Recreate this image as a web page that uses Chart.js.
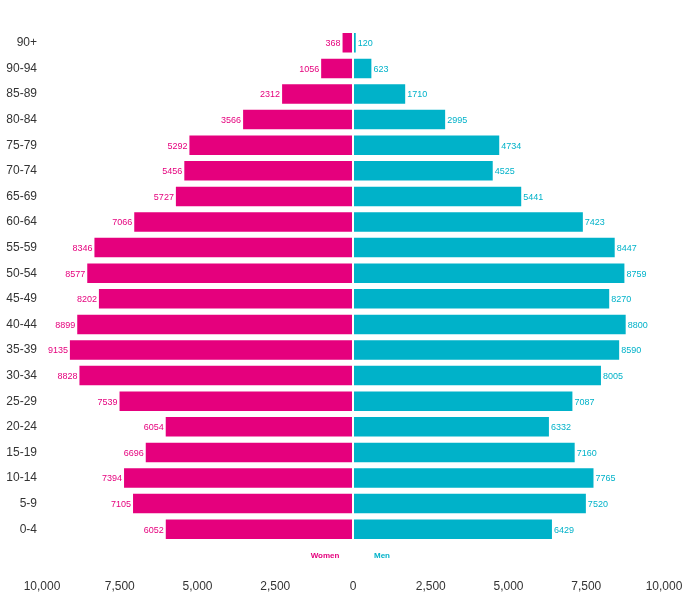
<!DOCTYPE html>
<html>
<head>
<meta charset="utf-8">
<script src="https://cdn.jsdelivr.net/npm/chart.js@4/dist/chart.umd.min.js"></script>
<style>
  body { margin: 0; background: #fff; }
</style>
</head>
<body>
<canvas id="piramide" width="688" height="595"></canvas>
<script>
// Grupos de edad (de arriba hacia abajo)
const grupos = ['90+', '90-94', '85-89', '80-84', '75-79', '70-74', '65-69', '60-64', '55-59', '50-54',
  '45-49', '40-44', '35-39', '30-34', '25-29', '20-24', '15-19', '10-14', '5-9', '0-4'];

// Valores
const mujeres = [368, 1056, 2312, 3566, 5292, 5456, 5727, 7066, 8346, 8577,
  8202, 8899, 9135, 8828, 7539, 6054, 6696, 7394, 7105, 6052];
const hombres = [120, 623, 1710, 2995, 4734, 4525, 5441, 7423, 8447, 8759,
  8270, 8800, 8590, 8005, 7087, 6332, 7160, 7765, 7520, 6429];

const ticksX = [-10000, -7500, -5000, -2500, 0, 2500, 5000, 7500, 10000];

const rosa = '#E5007D';
const cian = '#00B2C9';
const fuente = "'Liberation Sans', Arial, sans-serif";

// Plugin para escribir el valor al final de cada barra
const etiquetas = {
  id: 'etiquetas',
  afterDatasetsDraw(chart) {
    const ctx = chart.ctx;
    ctx.save();
    ctx.font = '9px ' + fuente;
    ctx.textBaseline = 'middle';
    chart.data.datasets.forEach((ds, i) => {
      const meta = chart.getDatasetMeta(i);
      meta.data.forEach((bar, j) => {
        const valor = Math.abs(ds.data[j]);
        if (ds.data[j] < 0) {
          ctx.fillStyle = rosa;
          ctx.textAlign = 'right';
          ctx.fillText(valor, bar.x - 1, bar.y + 1);
        } else {
          ctx.fillStyle = cian;
          ctx.textAlign = 'left';
          ctx.fillText(valor, bar.x + 1, bar.y + 1);
        }
      });
    });
    ctx.restore();
  }
};

// Leyenda pequeña entre las barras y los ticks del eje X
const leyenda = {
  id: 'leyenda',
  afterDraw(chart) {
    const ctx = chart.ctx;
    const x0 = chart.scales.x.getPixelForValue(0);
    const y = chart.chartArea.bottom + 14;
    ctx.save();
    ctx.font = 'bold 8px ' + fuente;
    ctx.textBaseline = 'middle';
    ctx.textAlign = 'center';
    ctx.fillStyle = rosa;
    ctx.fillText('Women', x0 - 28, y);
    ctx.fillStyle = cian;
    ctx.fillText('Men', x0 + 29, y);
    ctx.restore();
  }
};

new Chart(document.getElementById('piramide'), {
  type: 'bar',
  data: {
    labels: grupos,
    datasets: [{
      label: 'Women',
      data: mujeres.map(v => -v),
      backgroundColor: rosa,
      borderColor: 'rgba(255,255,255,0.45)',
      borderWidth: 1,
      borderSkipped: false
    }, {
      label: 'Men',
      data: hombres,
      backgroundColor: cian,
      borderColor: 'rgba(255,255,255,0.45)',
      borderWidth: 1,
      borderSkipped: false
    }]
  },
  options: {
    indexAxis: 'y',
    responsive: false,
    animation: false,
    datasets: {
      bar: { barPercentage: 0.84, categoryPercentage: 1 }
    },
    layout: { padding: { top: 30, right: 24, left: 0, bottom: 0 } },
    plugins: {
      legend: { display: false },
      tooltip: { enabled: false }
    },
    scales: {
      x: {
        stacked: true,
        min: -10000,
        max: 10000,
        afterBuildTicks: (eje) => { eje.ticks = ticksX.map(v => ({ value: v })); },
        afterFit: (eje) => { eje.height = 53; eje.paddingLeft = 0; eje.paddingRight = 0; },
        grid: { display: false },
        border: { display: false },
        ticks: {
          padding: 29,
          maxRotation: 0,
          color: '#333',
          font: { family: fuente, size: 12 },
          callback: (v) => Math.abs(v).toLocaleString('en-US')
        }
      },
      y: {
        stacked: true,
        afterFit: (eje) => { eje.width = 42; },
        grid: { display: false },
        border: { display: false },
        ticks: {
          color: '#333',
          padding: -3,
          font: { family: fuente, size: 12 }
        }
      }
    }
  },
  plugins: [etiquetas, leyenda]
});
</script>
</body>
</html>
